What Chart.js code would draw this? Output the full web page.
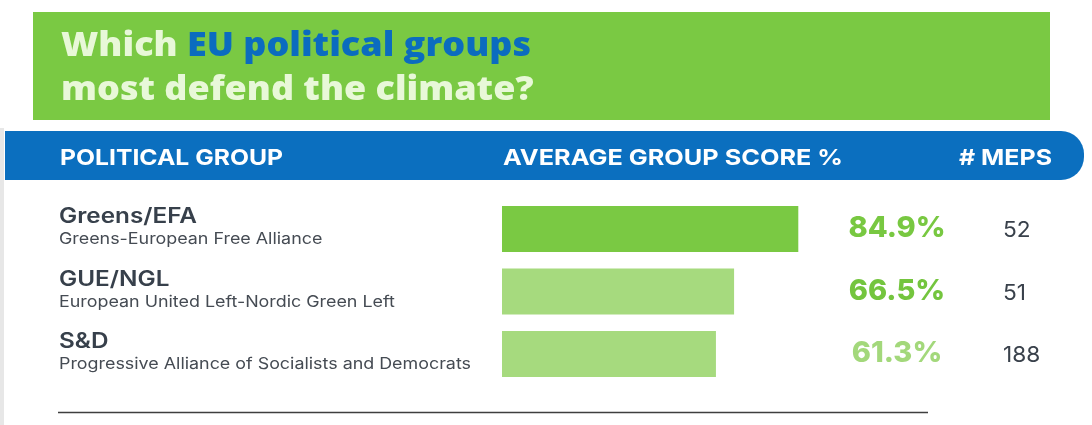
<!DOCTYPE html>
<html>
<head>
<meta charset="utf-8">
<script src="https://cdn.jsdelivr.net/npm/chart.js"></script>
<style>
  html, body { margin: 0; padding: 0; background: #ffffff; }
  #wrap { width: 1092px; height: 425px; }
</style>
</head>
<body>
<div id="wrap"><canvas id="chartClimate" width="1092" height="425"></canvas></div>
<script>
const groups = ['Greens/EFA', 'GUE/NGL', 'S&D'];
const groupNames = ['Greens-European Free Alliance', 'European United Left-Nordic Green Left', 'Progressive Alliance of Socialists and Democrats'];
const scores = [84.9, 66.5, 61.3];
const meps = [52, 51, 188];
const columnHeads = ['POLITICAL GROUP', 'AVERAGE GROUP SCORE %', '# MEPS'];
const titleLines = [['Which ', 'EU political groups'], ['most defend the climate?']];

const barColors = ['#7ac943', '#a6da7e', '#a6da7e'];
const pctColors = ['#78c841', '#74c53e', '#a3d87b'];
const tableFont = 'Inter, "Open Sans", sans-serif';

// the original uses a wide geometric face, so text is stretched a little sideways
function drawWide(c, text, x, y, sx) {
  c.save();
  c.translate(x, y);
  c.scale(sx, 1);
  c.fillText(text, 0, 0);
  c.restore();
}

// everything around the bars (title box, header band, row texts)
const infographic = {
  id: 'infographic',
  beforeDraw(chart) {
    const c = chart.ctx;
    c.save();
    c.fillStyle = '#ffffff';
    c.fillRect(0, 0, chart.width, chart.height);

    // page edge on the left
    c.fillStyle = '#e7e7e7';
    c.fillRect(0, 128, 4, chart.height - 128);

    // title box
    c.fillStyle = '#7ac943';
    c.fillRect(33, 12, 1017, 108);

    c.font = '800 34px "Open Sans", sans-serif';
    c.textBaseline = 'alphabetic';
    c.textAlign = 'left';
    const w1 = c.measureText(titleLines[0].join('')).width;
    const sx = 470 / w1;
    [56, 100].forEach((base, li) => {
      c.save();
      c.translate(61, base);
      c.scale(sx, 1);
      let x = 0;
      titleLines[li].forEach((part, pi) => {
        c.fillStyle = (li === 0 && pi === 1) ? '#0b6cbf' : '#e8f8d8';
        c.fillText(part, x, 0);
        x += c.measureText(part).width;
      });
      c.restore();
    });

    // blue header band, rounded on the right
    c.fillStyle = '#0b6fbf';
    c.beginPath();
    c.moveTo(5, 131);
    c.lineTo(1061, 131);
    c.arcTo(1084, 131, 1084, 155, 23);
    c.arcTo(1084, 180, 1061, 180, 23);
    c.lineTo(5, 180);
    c.closePath();
    c.fill();

    c.fillStyle = '#ffffff';
    c.font = '700 22px ' + tableFont;
    const headX = [60, 503, 959];
    const headW = [223, 340, 93];
    columnHeads.forEach((h, i) => {
      drawWide(c, h, headX[i], 165, headW[i] / c.measureText(h).width);
    });
    c.restore();
  },
  afterDatasetsDraw(chart) {
    const c = chart.ctx;
    const yScale = chart.scales.y;
    c.save();
    c.textBaseline = 'alphabetic';

    c.font = '600 21px ' + tableFont;
    const sxHead = 138 / c.measureText(groups[0]).width;
    c.font = '400 16px ' + tableFont;
    const sxSub = 412 / c.measureText(groupNames[2]).width;

    groups.forEach((g, i) => {
      const y = yScale.getPixelForValue(i);
      c.textAlign = 'left';
      c.fillStyle = '#37404b';
      c.font = '600 21px ' + tableFont;
      drawWide(c, g, 59, y - 6, sxHead);
      c.fillStyle = '#454b53';
      c.font = '400 16px ' + tableFont;
      drawWide(c, groupNames[i], 59, y + 15, sxSub);

      c.textAlign = 'center';
      c.fillStyle = pctColors[i];
      c.font = '800 29px ' + tableFont;
      c.fillText(scores[i].toFixed(1) + '%', 897, y + 8);

      c.textAlign = 'left';
      c.fillStyle = '#39414b';
      c.font = '400 21px ' + tableFont;
      drawWide(c, String(meps[i]), 1003, y + 8, 1.08);
    });

    // rule under the table
    c.strokeStyle = '#3f3f3f';
    c.lineWidth = 1.5;
    c.beginPath();
    c.moveTo(58, 412.5);
    c.lineTo(928, 412.5);
    c.stroke();
    c.restore();
  }
};

document.addEventListener('DOMContentLoaded', function () {
  const ctx = document.getElementById('chartClimate').getContext('2d');

  new Chart(ctx, {
    type: 'bar',
    data: {
      labels: groups,
      datasets: [{
        data: scores,
        backgroundColor: barColors,
        borderWidth: 0,
        barPercentage: 0.736,
        categoryPercentage: 1
      }]
    },
    options: {
      indexAxis: 'y',
      responsive: false,
      animation: false,
      layout: {
        padding: { left: 502, right: 241, top: 197.75, bottom: 39.75 }
      },
      plugins: {
        legend: { display: false },
        tooltip: { enabled: false }
      },
      scales: {
        x: { display: false, min: 0, max: 100 },
        y: { display: false }
      }
    },
    plugins: [infographic]
  });
});
</script>
</body>
</html>
